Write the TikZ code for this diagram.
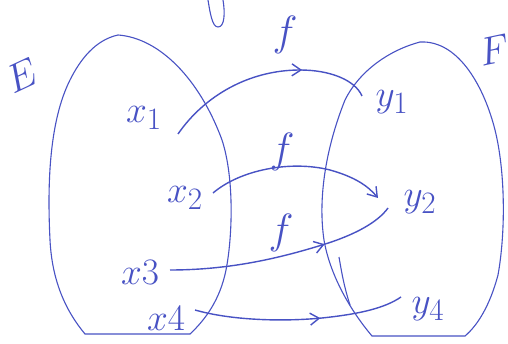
\documentclass[tikz,border=0pt]{standalone}
\usetikzlibrary{arrows.meta,decorations.markings}
\definecolor{ink}{RGB}{72,82,196}
\begin{document}
\begin{tikzpicture}[x=1pt,y=-1pt,
  blob/.style={draw=ink,line width=1.1pt},
  conn/.style={draw=ink,line width=1.4pt},
  midarrow/.style={postaction={decorate},decoration={markings,
     mark=at position #1 with {\arrow{Straight Barb[length=9pt,width=12pt,line width=1.4pt]}}}},
  lbl/.style={text=ink,font=\Huge,scale=1.5,inner sep=0pt},
  flbl/.style={text=ink,font=\Huge,scale=1.7,inner sep=0pt},
  setlbl/.style={text=ink,font=\Huge,scale=1.6,inner sep=0pt}]
\useasboundingbox (0,0) rectangle (508,344);
\fill[white] (0,0) rectangle (508,344);
% set E
\path[blob] (118,35) .. controls (160,38) and (200,80) .. (222,140)
  .. controls (235,180) and (232,240) .. (226,270)
  .. controls (220,300) and (205,320) .. (190,334) -- (85,334)
  .. controls (65,310) and (52,280) .. (50,240)
  .. controls (47,180) and (50,120) .. (70,80)
  .. controls (80,60) and (95,40) .. (118,35);
% set F
\path[blob] (420,42) .. controls (460,40) and (485,90) .. (495,130)
  .. controls (505,170) and (506,230) .. (498,275)
  .. controls (490,305) and (478,325) .. (465,336) -- (372,336)
  .. controls (350,310) and (330,275) .. (324,240)
  .. controls (318,200) and (325,150) .. (345,100)
  .. controls (360,70) and (390,50) .. (420,42);
\path[blob] (339,257) .. controls (342,275) and (345,290) .. (350,305);
% mark at the top
\path[blob] (208,0) .. controls (210,12) and (212,27) .. (218,27) .. controls (225,27) and (225,12) .. (223,0);
% labels
\node[setlbl,rotate=25] (E) at (22,76) {$E$};
\node[setlbl,rotate=12] (F) at (494,50) {$F$};
\node[lbl] (x1) at (144,118) {$x_1$};
\node[lbl] (x2) at (185,198) {$x_2$};
\node[lbl] (x3) at (140,272) {$x3$};
\node[lbl] (x4) at (166,318) {$x4$};
\node[lbl] (y1) at (392,102) {$y_1$};
\node[lbl] (y2) at (420,202) {$y_2$};
\node[lbl] (y4) at (428,309) {$y_4$};
\node[flbl] (f1) at (285,35) {$f$};
\node[flbl] (f2) at (282,152) {$f$};
\node[flbl] (f3) at (281,233) {$f$};
% connector end points
\coordinate (a1) at (178,134);
\coordinate (b1) at (362,96);
\coordinate (a2) at (213,193);
\coordinate (b2) at (378,198);
\coordinate (a3) at (170,270);
\coordinate (b3) at (388,208);
\coordinate (a4) at (195,310);
\coordinate (b4) at (401,297);
% connectors
\path[conn,midarrow=0.68] (a1) .. controls (205,95) and (250,70) .. (300,70)
   .. controls (330,70) and (355,80) .. (b1);
\path[conn,-{Straight Barb[length=9pt,width=12pt,line width=1.4pt]}] (a2) .. controls (240,170) and (290,160) .. (330,170)
   .. controls (355,177) and (368,186) .. (b2);
\path[conn,midarrow=0.68] (a3) .. controls (230,270) and (280,258) .. (322,245)
   .. controls (355,235) and (378,222) .. (b3);
\path[conn,midarrow=0.6] (a4) .. controls (230,320) and (280,322) .. (322,318)
   .. controls (360,314) and (385,308) .. (b4);
\end{tikzpicture}
\end{document}
